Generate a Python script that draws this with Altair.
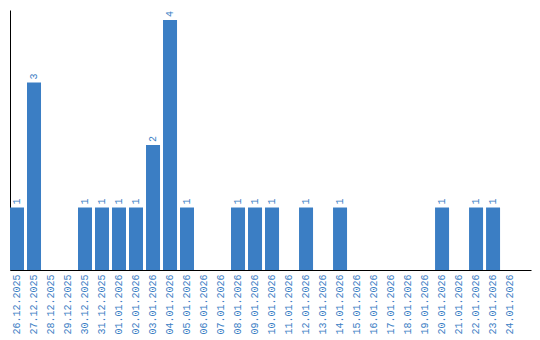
import altair as alt
import pandas as pd

dates = ["26.12.2025", "27.12.2025", "28.12.2025", "29.12.2025", "30.12.2025",
         "31.12.2025", "01.01.2026", "02.01.2026", "03.01.2026", "04.01.2026",
         "05.01.2026", "06.01.2026", "07.01.2026", "08.01.2026", "09.01.2026",
         "10.01.2026", "11.01.2026", "12.01.2026", "13.01.2026", "14.01.2026",
         "15.01.2026", "16.01.2026", "17.01.2026", "18.01.2026", "19.01.2026",
         "20.01.2026", "21.01.2026", "22.01.2026", "23.01.2026", "24.01.2026"]
counts = [1, 3, 0, 0, 1, 1, 1, 1, 2, 4, 1, 0, 0, 1, 1, 1, 0, 1, 0, 1,
          0, 0, 0, 0, 0, 1, 0, 1, 1, 0]

df = pd.DataFrame({"date": dates, "count": counts})
BLUE = "#3b7ec4"
FONT = "Liberation Mono"

x = alt.X("date:N", sort=dates,
          scale=alt.Scale(domain=dates, paddingInner=0.176, paddingOuter=0.41, align=0),
          axis=alt.Axis(title=None, labelAngle=270, labelAlign="right", labelBaseline="middle",
                        labelColor=BLUE, labelFont=FONT, labelFontSize=10, labelPadding=4,
                        ticks=False, domainColor="#000000", domainWidth=1, grid=False,
                        labelOverlap=False))
y = alt.Y("count:Q", scale=alt.Scale(domain=[0, 4.16], nice=False),
          axis=alt.Axis(title=None, labels=False, ticks=False, grid=False,
                        domainColor="#000000", domainWidth=1))

base = alt.Chart(df).transform_filter("datum.count > 0")
bars = base.mark_bar(color=BLUE).encode(x=x, y=y)
labels = base.mark_text(angle=270, align="left", baseline="middle", dx=3,
                        font=FONT, fontSize=10, color=BLUE).encode(
    x=x, y=y, text="count:Q")

chart = (bars + labels).properties(
    width=521, height=260,
    autosize=alt.AutoSizeParams(type="none"),
    padding={"left": 10, "top": 10, "right": 9, "bottom": 70},
).configure_view(stroke=None)

chart.save("out.html", embed_options={"renderer": "svg", "actions": False})
